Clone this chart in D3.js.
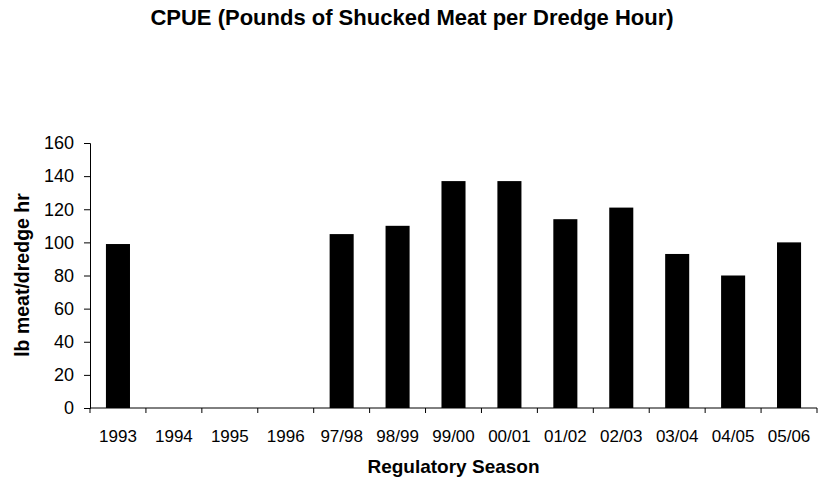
<!DOCTYPE html>
<html>
<head>
<meta charset="utf-8">
<script src="https://cdn.jsdelivr.net/npm/d3@7"></script>
<style>
  body { margin: 0; background: #fff; }
  svg { display: block; }
  text { font-family: Arial, "Liberation Sans", sans-serif; fill: #000; }
</style>
</head>
<body>
<svg id="chart" width="824" height="478"></svg>
<script>
const categories = ["1993","1994","1995","1996","97/98","98/99","99/00","00/01","01/02","02/03","03/04","04/05","05/06"];
const values = [99, null, null, null, 105, 110, 137, 137, 114, 121, 93, 80, 100];
const yTicks = [0, 20, 40, 60, 80, 100, 120, 140, 160];
const title = "CPUE (Pounds of Shucked Meat per Dredge Hour)";
const xTitle = "Regulatory Season";
const yTitle = "lb meat/dredge hr";

const svg = d3.select("#chart");
const margin = {left: 90, right: 7, top: 143, bottom: 70};
const W = 824, H = 478;
const plotW = W - margin.left - margin.right;
const plotH = H - margin.top - margin.bottom;

const x = d3.scaleBand().domain(categories).range([margin.left, margin.left + plotW]).paddingInner(0.57).paddingOuter(0.285);
const xb = d3.scaleBand().domain(categories).range([margin.left, margin.left + plotW]);
const y = d3.scaleLinear().domain([0, 160]).range([margin.top + plotH, margin.top]);

// bars
svg.append("g").selectAll("rect")
  .data(categories.map((c, i) => ({c, v: values[i]})).filter(d => d.v != null))
  .join("rect")
  .attr("x", d => x(d.c))
  .attr("width", x.bandwidth())
  .attr("y", d => y(d.v))
  .attr("height", d => y(0) - y(d.v))
  .attr("fill", "#000");

// y axis
const yAxis = svg.append("g")
  .attr("transform", `translate(${margin.left},0)`)
  .call(d3.axisLeft(y).tickValues(yTicks).tickSize(6).tickPadding(10));
yAxis.selectAll("text").style("font-size", "18px");
yAxis.selectAll("path, line").attr("stroke", "#000");

// x axis with ticks at category boundaries
const xAxisG = svg.append("g").attr("transform", `translate(0,${y(0)})`);
xAxisG.append("line").attr("x1", margin.left).attr("x2", margin.left + plotW).attr("stroke", "#000");
const bounds = categories.map(c => xb(c)).concat([margin.left + plotW]);
xAxisG.selectAll("line.tick").data(bounds).join("line").attr("class", "tick")
  .attr("x1", d => d).attr("x2", d => d).attr("y1", 0).attr("y2", 5).attr("stroke", "#000");
xAxisG.selectAll("text").data(categories).join("text")
  .attr("x", d => xb(d) + xb.bandwidth() / 2)
  .attr("y", 34)
  .attr("text-anchor", "middle")
  .style("font-size", "17px")
  .text(d => d);

// titles
svg.append("text").attr("x", W / 2).attr("y", 25).attr("text-anchor", "middle")
  .style("font-size", "22px").style("font-weight", "bold").text(title);
svg.append("text").attr("x", margin.left + plotW / 2).attr("y", 473).attr("text-anchor", "middle")
  .style("font-size", "19px").style("font-weight", "bold").text(xTitle);
svg.append("text").attr("transform", `translate(29,275) rotate(-90)`).attr("text-anchor", "middle")
  .style("font-size", "19.5px").style("font-weight", "bold").text(yTitle);
</script>
</body>
</html>
